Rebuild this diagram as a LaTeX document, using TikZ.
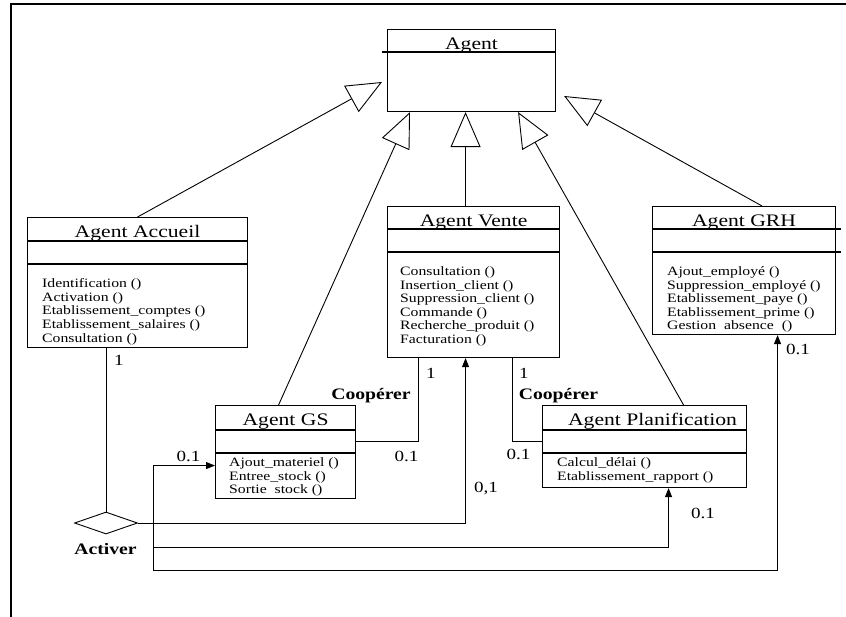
\documentclass[tikz,border=0pt]{standalone}
\usepackage{fontspec}
\setmainfont{Liberation Serif}[FakeStretch=1.23]
\usetikzlibrary{arrows.meta,positioning,shapes.geometric}

\tikzset{
  classbox/.style={draw, line width=1.1pt, inner sep=0pt, anchor=north west},
  classname/.style={anchor=base, inner sep=0pt, font=\fontsize{17.6}{20}\selectfont},
  methods/.style={anchor=north west, inner sep=0pt, align=left, font=\fontsize{12.8}{13.6}\selectfont},
  herite/.style={line width=0.9pt, -{Triangle[open, length=35pt, width=30pt]}},
  assoc/.style={line width=0.9pt},
  fleche/.style={assoc, -{Triangle[length=9pt, width=7pt]}},
  mult/.style={inner sep=0pt, font=\fontsize{15.5}{18}\selectfont},
  role/.style={inner sep=0pt, font=\fontsize{16}{18}\selectfont\bfseries},
}

\begin{document}
\begin{tikzpicture}[x=1pt, y=-1pt]
    \useasboundingbox (0,0) rectangle (846,616);
    % cadre
    \draw[line width=2.5pt] (11,4) rectangle (870,640);

    % classes
    \node[classbox, minimum width=168pt, minimum height=82pt] (agent) at (387,29) {};
    \node[classbox, minimum width=220pt, minimum height=130pt] (accueil) at (27,217) {};
    \node[classbox, minimum width=172pt, minimum height=151pt] (vente) at (387,206) {};
    \node[classbox, minimum width=183pt, minimum height=128pt] (grh) at (652,206) {};
    \node[classbox, minimum width=140pt, minimum height=93pt] (gs) at (215,405) {};
    \node[classbox, minimum width=204pt, minimum height=82pt] (planif) at (542,405) {};

    % compartiments
    \draw[line width=1.1pt] ([xshift=-5pt,yshift=-23pt]agent.north west) -- ([yshift=-23pt]agent.north east);
    \draw[line width=1.1pt] ([yshift=-24pt]accueil.north west) -- ([yshift=-24pt]accueil.north east);
    \draw[line width=1.1pt] ([yshift=-47pt]accueil.north west) -- ([yshift=-47pt]accueil.north east);
    \draw[line width=1.1pt] ([yshift=-23pt]vente.north west) -- ([yshift=-23pt]vente.north east);
    \draw[line width=1.1pt] ([yshift=-46pt]vente.north west) -- ([yshift=-46pt]vente.north east);
    \draw[line width=1.1pt] ([yshift=-23pt]grh.north west) -- ([xshift=5pt,yshift=-23pt]grh.north east);
    \draw[line width=1.1pt] ([yshift=-46pt]grh.north west) -- ([xshift=5pt,yshift=-46pt]grh.north east);
    \draw[line width=1.1pt] ([yshift=-25pt]gs.north west) -- ([yshift=-25pt]gs.north east);
    \draw[line width=1.1pt] ([yshift=-48pt]gs.north west) -- ([yshift=-48pt]gs.north east);
    \draw[line width=1.1pt] ([yshift=-25pt]planif.north west) -- ([yshift=-25pt]planif.north east);
    \draw[line width=1.1pt] ([yshift=-48pt]planif.north west) -- ([yshift=-48pt]planif.north east);

    % noms des classes
    \node[classname] (agent-nom) at ([yshift=-20.5pt]agent.north) {Agent};
    \node[classname] (accueil-nom) at ([yshift=-20.5pt]accueil.north) {Agent Accueil};
    \node[classname] (vente-nom) at ([yshift=-20.5pt]vente.north) {Agent Vente};
    \node[classname] (grh-nom) at ([yshift=-20.5pt]grh.north) {Agent GRH};
    \node[classname] (gs-nom) at ([yshift=-20.5pt]gs.north) {Agent GS};
    \node[classname] (planif-nom) at ([xshift=8pt,yshift=-20.5pt]planif.north) {Agent Planification};

    % opérations
    \node[methods] (accueil-ops) at ([xshift=15pt,yshift=-61.4pt]accueil.north west)
        {Identification ()\\Activation ()\\Etablissement\_comptes ()\\Etablissement\_salaires ()\\Consultation ()};
    \node[methods] (vente-ops) at ([xshift=13pt,yshift=-60.4pt]vente.north west)
        {Consultation ()\\Insertion\_client ()\\Suppression\_client ()\\Commande ()\\Recherche\_produit ()\\Facturation ()};
    \node[methods] (grh-ops) at ([xshift=15pt,yshift=-60.4pt]grh.north west)
        {Ajout\_employé ()\\Suppression\_employé ()\\Etablissement\_paye ()\\Etablissement\_prime ()\\Gestion\ \ absence\ \ ()};
    \node[methods] (gs-ops) at ([xshift=14pt,yshift=-52.4pt]gs.north west)
        {Ajout\_materiel ()\\Entree\_stock ()\\Sortie\ \ stock ()};
    \node[methods] (planif-ops) at ([xshift=15pt,yshift=-52.4pt]planif.north west)
        {Calcul\_délai ()\\Etablissement\_rapport ()};

    % héritage
    \draw[herite] (accueil.north) -- ([xshift=-5pt,yshift=-53pt]agent.north west);
    \draw[herite] ([xshift=-7pt]gs.north) -- ([xshift=23pt]agent.south west);
    \draw[herite] ([xshift=-8pt]vente.north) -- ([xshift=-6pt]agent.south);
    \draw[herite] ([xshift=39pt]planif.north) -- ([xshift=-38pt]agent.south east);
    \draw[herite] ([xshift=18pt]grh.north) -- ([xshift=8pt,yshift=-67pt]agent.north east);

    % coopérer
    \draw[assoc] ([yshift=-36pt]gs.north east) -| ([xshift=-55pt]vente.south);
    \draw[assoc] ([xshift=39pt]vente.south) |- ([yshift=-36pt]planif.north west);

    % activer
    \node[draw, diamond, line width=0.9pt, minimum width=63pt, minimum height=22pt, inner sep=0pt] (activer) at (106,523) {};
    \draw[assoc] (accueil.south -| activer.north) -- (activer.north);
    \draw[fleche] (activer.east) -| ([xshift=-8pt]vente.south);
    \coordinate (noeud) at ([xshift=15pt]activer.east);
    \draw[fleche] (noeud) |- ([yshift=-13.5pt]gs.west);
    \draw[fleche] (noeud) -- ++(0,24) -| ([xshift=24pt]planif.south);
    \draw[fleche] (noeud) -- ++(0,47) -| ([xshift=33.5pt]grh.south);

    % étiquettes
    \node[role] (activer-lbl) at (105.5,549) {Activer};
    \node[role] (coop-gs) at (371,396) {Coopérer};
    \node[role] (coop-planif) at (558.5,396) {Coopérer};
    \node[mult] (m-accueil) at (119,360) {1};
    \node[mult] (m-vente-g) at (431,373) {1};
    \node[mult] (m-vente-d) at (524,373) {1};
    \node[mult] (m-gs-d) at (406.5,456) {0.1};
    \node[mult] (m-gs-g) at (188.5,456) {0.1};
    \node[mult] (m-planif-g) at (518.5,454) {0.1};
    \node[mult] (m-vente) at (486,489) {0,1};
    \node[mult] (m-planif) at (703,513) {0.1};
    \node[mult] (m-grh) at (798,349) {0.1};
\end{tikzpicture}
\end{document}
